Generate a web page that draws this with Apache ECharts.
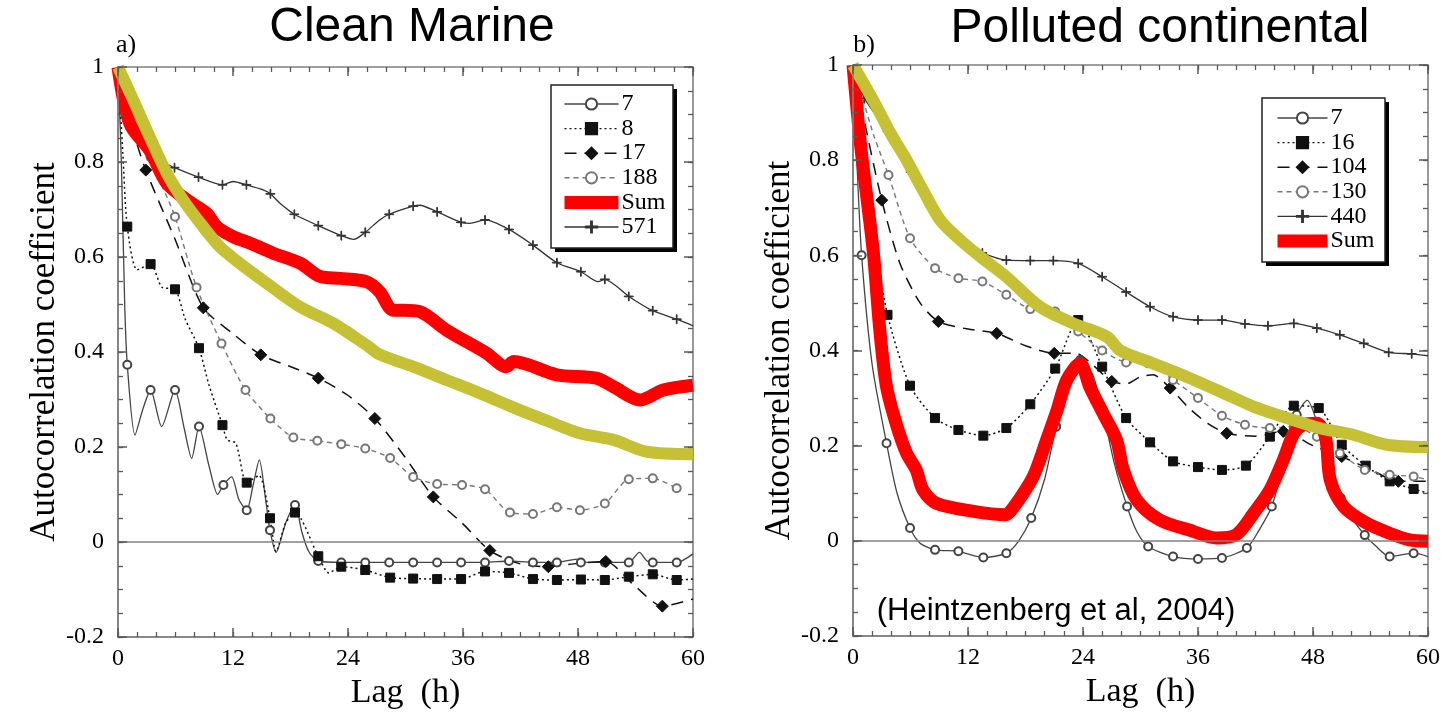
<!DOCTYPE html>
<html><head><meta charset="utf-8">
<script src="https://cdn.jsdelivr.net/npm/echarts@6/dist/echarts.min.js"></script>
<style>html,body{margin:0;padding:0;background:#fff}#c{width:1447px;height:717px}</style>
</head><body><div id="c"></div>
<script>
// ---------- text ----------
const xTickLabels = ['0','12','24','36','48','60'];
const yTickLabels = ['-0.2','0','0.2','0.4','0.6','0.8','1'];
const panelTitles = ['Clean Marine','Polluted continental'];
const panelLetters = ['a)','b)'];
const citation = '(Heintzenberg et al, 2004)';
const yAxisName = 'Autocorrelation coefficient';
const xAxisName = 'Lag  (h)';
const legendA = ['7','8','17','188','Sum','571'];
const legendB = ['7','16','104','130','440','Sum'];

// ---------- panel a (Clean Marine): [lag h, coefficient, marker] ----------
const a7 = [[0,1,0],[0.35,0.8,0],[0.7,0.5,0],[0.97,0.373,1],[1.77,0.225,0],[2.6,0.28,0],[3.4,0.32,1],[4.56,0.243,0],[5.95,0.32,1],[6.9,0.24,0],[7.69,0.176,0],[8.45,0.243,1],[9.5,0.16,0],[10.4,0.10,0],[11.0,0.12,1],[11.86,0.137,0],[12.6,0.09,0],[13.43,0.067,1],[14.1,0.12,0],[14.75,0.173,0],[15.4,0.09,0],[15.86,0.025,1],[16.49,-0.022,0],[17.5,0.04,0],[18.47,0.078,1],[19.2,0.02,0],[19.9,-0.02,0],[20.9,-0.04,1],[23.3,-0.043,1],[25.8,-0.043,1],[28.3,-0.043,1],[30.8,-0.043,1],[33.3,-0.043,1],[35.8,-0.043,1],[38.3,-0.043,1],[40.8,-0.04,1],[43.3,-0.043,1],[45.8,-0.043,1],[47.9,-0.036,0],[48.3,-0.043,1],[50.8,-0.043,1],[53.3,-0.043,1],[54.4,-0.022,0],[55.2,-0.04,0],[55.8,-0.043,1],[58.3,-0.043,1],[60,-0.025,0]];
const a8 = [[0,1,0],[0.5,0.82,0],[0.97,0.664,1],[2,0.573,0],[3.4,0.585,1],[4.6,0.536,0],[5.95,0.532,1],[7,0.47,0],[8.45,0.408,1],[9.5,0.33,0],[10.9,0.246,1],[11.4,0.215,0],[12.3,0.208,0],[13.43,0.125,1],[14.7,0.14,0],[15.86,0.05,1],[16.5,-0.02,0],[17.5,0.04,0],[18.47,0.062,1],[20.9,-0.03,1],[22,-0.065,0],[23.3,-0.052,1],[25.8,-0.059,1],[28.4,-0.075,1],[30.8,-0.077,1],[33.3,-0.078,1],[35.8,-0.078,1],[38.3,-0.062,1],[40.8,-0.065,1],[43.3,-0.078,1],[45.8,-0.08,1],[48.3,-0.079,1],[50.8,-0.08,1],[53.3,-0.073,1],[55.8,-0.068,1],[58.3,-0.08,1],[60,-0.078,0]];
const a17 = [[0,1,0],[1.2,0.89,0],[2.9,0.783,1],[5.9,0.64,0],[8.9,0.493,1],[11.9,0.44,0],[14.9,0.394,1],[17.9,0.37,0],[20.9,0.345,1],[23.9,0.31,0],[26.8,0.26,1],[29.9,0.18,0],[32.9,0.095,1],[35.9,0.04,0],[38.8,-0.018,1],[41.8,-0.045,0],[44.9,-0.052,1],[47.9,-0.045,0],[50.9,-0.041,1],[53.8,-0.09,0],[56.8,-0.135,1],[60,-0.12,0]];
const a188 = [[0,1,0],[1,0.95,0],[2.2,0.87,0],[3.4,0.81,1],[4.6,0.75,0],[5.95,0.685,1],[8.2,0.536,1],[10.8,0.418,1],[13.3,0.32,1],[15.9,0.26,1],[18.3,0.22,1],[20.8,0.213,1],[23.3,0.206,1],[25.8,0.197,1],[28.4,0.177,1],[30.8,0.137,1],[33.3,0.122,1],[35.9,0.12,1],[38.3,0.111,1],[40.9,0.062,1],[43.3,0.059,1],[45.8,0.073,1],[48.2,0.067,1],[50.8,0.081,1],[53.3,0.132,1],[55.8,0.134,1],[58.3,0.113,1]];
const a571 = [[0,1,0],[0.97,0.9,1],[2,0.85,0],[3.4,0.815,1],[4.7,0.8,0],[5.9,0.788,1],[8.4,0.768,1],[10.9,0.752,1],[12,0.759,0],[13.4,0.752,1],[15.2,0.741,0],[15.9,0.733,1],[16.9,0.713,0],[18.4,0.69,1],[20.9,0.666,1],[23.3,0.645,1],[24.6,0.637,0],[25.8,0.652,1],[27.3,0.678,0],[28.3,0.69,1],[30.8,0.707,1],[31.5,0.709,0],[33.3,0.695,1],[35.8,0.673,1],[36.7,0.671,0],[38.3,0.678,1],[40.8,0.658,1],[43.3,0.625,1],[45.8,0.588,1],[48.3,0.569,1],[50.1,0.548,0],[50.8,0.553,1],[53.3,0.517,1],[55.8,0.487,1],[58.3,0.469,1],[60,0.455,0]];
const aSum = [[0,1],[1.25,0.88],[3.3,0.825],[5.1,0.755],[7.2,0.72],[9.25,0.692],[10.3,0.664],[12,0.643],[13.8,0.629],[16.2,0.608],[19,0.587],[21.1,0.559],[23.2,0.555],[25.9,0.548],[27.3,0.527],[28.7,0.488],[29.8,0.488],[31.5,0.485],[34.3,0.446],[38.5,0.397],[40.5,0.369],[41.3,0.38],[45.8,0.352],[49.9,0.345],[51.7,0.327],[54.5,0.299],[56.9,0.32],[60,0.33]];
const aFit = [[0,1],[1.6,0.93],[3.3,0.853],[5.1,0.776],[6.8,0.72],[8.6,0.671],[10.6,0.622],[12.7,0.587],[15.5,0.545],[19,0.495],[22.5,0.46],[25.9,0.415],[27.3,0.395],[30.8,0.369],[34.3,0.341],[37.8,0.313],[41.3,0.283],[44.8,0.255],[48.2,0.229],[51.7,0.215],[55.2,0.19],[60,0.185]];

// ---------- panel b (Polluted continental) ----------
const b7 = [[0,1,0],[0.4,0.8,0],[0.9,0.6,1],[2,0.37,0],[3.5,0.205,1],[4.6,0.1,0],[5.95,0.027,1],[7,-0.005,0],[8.56,-0.019,1],[11,-0.022,1],[13.6,-0.035,1],[16,-0.026,1],[17.3,0,0],[18.6,0.048,1],[20,0.13,0],[21.2,0.24,1],[22.5,0.33,0],[23.7,0.38,1],[25,0.35,0],[26.2,0.26,1],[27.3,0.16,0],[28.6,0.072,1],[29.6,0.02,0],[30.8,-0.012,1],[33.4,-0.033,1],[36,-0.038,1],[38.5,-0.036,1],[41.1,-0.015,1],[42.3,0.02,0],[43.7,0.072,1],[45,0.17,0],[46.3,0.265,1],[47.4,0.295,0],[48.4,0.25,1],[49.4,0.17,0],[50.9,0.09,1],[52,0.05,0],[53.4,0.012,1],[54.5,-0.01,0],[56,-0.033,1],[58.5,-0.026,1],[60,-0.033,0]];
const b16 = [[0,1,0],[1,0.85,0],[2.2,0.64,0],[3.6,0.475,1],[5.95,0.326,1],[8.56,0.258,1],[11,0.233,1],[13.6,0.221,1],[16,0.237,1],[18.5,0.287,1],[21.1,0.362,1],[23.5,0.464,1],[26,0.366,1],[28.5,0.258,1],[31,0.207,1],[33.4,0.167,1],[36,0.155,1],[38.5,0.149,1],[41,0.158,1],[43.5,0.219,1],[46,0.284,1],[48.6,0.279,1],[51,0.202,1],[53.5,0.158,1],[56,0.125,1],[58.5,0.109,1],[60,0.1,0]];
const b104 = [[0,1,0],[1,0.9,0],[3,0.716,1],[4.9,0.583,0],[7,0.5,0],[8.9,0.461,1],[12,0.445,0],[15,0.436,1],[18,0.41,0],[21,0.394,1],[23.3,0.394,0],[25,0.37,0],[27,0.335,1],[28.5,0.33,0],[30,0.345,0],[31.3,0.349,0],[33.1,0.321,1],[35,0.28,0],[37,0.247,0],[39,0.226,1],[42,0.22,0],[44.9,0.23,1],[48,0.2,0],[51,0.177,1],[54,0.15,0],[56.9,0.125,1],[60,0.125,0]];
const b130 = [[0,1,0],[1,0.93,0],[2.2,0.85,0],[3.7,0.769,1],[5.95,0.636,1],[8.56,0.573,1],[11,0.552,1],[13.5,0.545,1],[16,0.517,1],[18.5,0.487,1],[21.1,0.482,1],[23.5,0.44,1],[26,0.4,1],[28.5,0.375,1],[30.8,0.373,1],[33.4,0.338,1],[36,0.3,1],[38.5,0.263,1],[40.9,0.244,1],[43.5,0.237,1],[46,0.24,1],[48.4,0.219,1],[50.8,0.184,1],[53.4,0.149,1],[56,0.139,1],[58.5,0.135,1],[60,0.128,0]];
const b440 = [[0,1,0],[1.2,0.93,1],[3.6,0.86,1],[6,0.775,1],[8.5,0.69,1],[11,0.632,1],[13.5,0.605,1],[16,0.59,1],[18.5,0.589,1],[20.9,0.589,1],[23.5,0.583,1],[26,0.555,1],[28.5,0.523,1],[31,0.492,1],[33.4,0.471,1],[36,0.464,1],[38.5,0.464,1],[40.9,0.456,1],[43.3,0.452,1],[46,0.457,1],[48.4,0.447,1],[50.8,0.433,1],[53.3,0.415,1],[55.9,0.396,1],[58.3,0.393,1],[60,0.389,0]];
const bSum = [[0,1],[0.8,0.83],[2.1,0.611],[2.8,0.443],[3.5,0.324],[4.6,0.24],[5.6,0.184],[6.6,0.149],[7.3,0.107],[8.7,0.079],[12.6,0.062],[15.9,0.055],[16.7,0.069],[18.8,0.135],[20.2,0.212],[21.3,0.275],[22.3,0.338],[23.7,0.373],[24.7,0.324],[26.1,0.268],[27.5,0.212],[28.2,0.15],[29.6,0.086],[32,0.044],[35.5,0.02],[37.9,0.006],[40,0.013],[41.8,0.058],[43.5,0.107],[44.9,0.17],[46,0.226],[47,0.244],[48.4,0.247],[49.3,0.219],[49.8,0.128],[51.2,0.072],[53.6,0.037],[56,0.016],[58.1,0.002],[60,-0.001]];
const bFit = [[0,1],[2.1,0.926],[3.9,0.857],[5.6,0.8],[7.3,0.737],[9.1,0.674],[11.2,0.632],[13.3,0.597],[16,0.555],[19.5,0.492],[23,0.457],[26.5,0.429],[27.9,0.4],[31.3,0.373],[34.8,0.345],[38.3,0.314],[41.8,0.282],[45.3,0.258],[48.7,0.237],[52.2,0.223],[55.7,0.202],[60,0.197]];

// ---------- styles ----------
const SERIF = '"Liberation Serif","DejaVu Serif",serif';
const SANS = '"Liberation Sans",Arial,sans-serif';
const AX = '#808080';
const TK = '#5a5a5a';
const PLUS = 'path://M4.6,0h0.8v4.6h4.6v0.8h-4.6v4.6h-0.8v-4.6h-4.6v-0.8h4.6z';
const ST = {
  circle:  {symbol:'emptyCircle', size:8, color:'#444', type:'solid', width:1.3},
  square:  {symbol:'rect', size:9, color:'#111', type:[2,3], width:1.5},
  diamond: {symbol:'diamond', size:12, color:'#111', type:[12,8], width:1.5},
  grey:    {symbol:'emptyCircle', size:8, color:'#777', type:[5,4], width:1.4},
  cross:   {symbol:PLUS, size:9, color:'#333', type:'solid', width:1.3}
};
const NAX = 5; // axes per panel per direction

function pts(arr){ return arr.map(p => p[2] ? {value:[p[0],p[1]]} : {value:[p[0],p[1]], symbol:'none'}); }
function thin(name, arr, g, st){
  return {name, type:'line', xAxisIndex:g*NAX, yAxisIndex:g*NAX, data:pts(arr), smooth:0.25,
    symbol:st.symbol, symbolSize:st.size, showSymbol:true, showAllSymbol:true, z:2,
    itemStyle:{color:st.color, borderColor:st.color, borderWidth:1},
    lineStyle:{color:st.color, width:st.width, type:st.type}, emphasis:{disabled:true}};
}
function thick(name, arr, g, color, width, z){
  return {name, type:'line', xAxisIndex:g*NAX, yAxisIndex:g*NAX, data:arr, smooth:0.3, symbol:'none', z,
    itemStyle:{color}, lineStyle:{color, width, cap:'butt', join:'round'}, emphasis:{disabled:true}};
}
function zeroLine(){ return {silent:true, symbol:'none', label:{show:false}, animation:false,
  lineStyle:{color:AX, width:1.5, type:'solid'}, data:[{yAxis:0}]}; }

const grids = [
  {left:118, top:67, width:575, height:570, show:true, borderColor:AX, borderWidth:1.6, backgroundColor:'transparent'},
  {left:853, top:65, width:575, height:571, show:true, borderColor:AX, borderWidth:1.6, backgroundColor:'transparent'}
];
const XR = {min:0, max:60, interval:12, split:6};
const YR = {min:-0.2, max:1, interval:0.2, split:4};

function mainAx(kind, g){
  const isX = kind === 'x';
  const r = isX ? XR : YR;
  return {type:'value', gridIndex:g, position: isX ? 'bottom' : 'left', min:r.min, max:r.max, interval:r.interval, z:10,
    axisLine:{show:true, onZero:false, lineStyle:{color:AX, width:1.6}},
    axisTick:{show:false},
    minorTick:{show:false},
    splitLine:{show:false}, minorSplitLine:{show:false},
    axisLabel:{show:true, margin: isX ? 10 : 14, fontFamily:SERIF, fontSize:24, color:'#000',
      formatter: isX ? (v => xTickLabels[Math.round(v/12)]) : (v => yTickLabels[Math.round((v+0.2)/0.2)])},
    name: isX ? xAxisName : yAxisName, nameLocation:'middle', nameGap: isX ? 38 : 56, nameRotate: isX ? 0 : 90,
    nameTextStyle:{fontFamily:SERIF, fontSize: isX ? 34 : 35, color:'#000'}};
}
// tick-only axes pulled into the plot so their outward ticks end on the frame (ticks drawn inside)
function tickAx(kind, g, pos, len, minor){
  const r = kind === 'x' ? XR : YR;
  return {type:'value', gridIndex:g, position:pos, offset:-len, min:r.min, max:r.max, interval:r.interval, z:10,
    axisLine:{show:false, onZero:false}, axisLabel:{show:false}, splitLine:{show:false}, minorSplitLine:{show:false},
    axisTick:{show:true, inside:false, length:len, lineStyle:{color:TK, width: minor ? 1.3 : 1.5}},
    minorTick:{show:minor, splitNumber:r.split, length:len, lineStyle:{color:TK, width:1.3}}};
}
function axesFor(kind, g){
  const a = kind === 'x' ? ['bottom','top'] : ['left','right'];
  return [mainAx(kind, g), tickAx(kind,g,a[0],9,false), tickAx(kind,g,a[0],5,true), tickAx(kind,g,a[1],9,false), tickAx(kind,g,a[1],5,true)];
}

// legend boxes: [left, top, width, height]
const boxA = [551, 85, 122, 163];
const boxB = [1262, 98, 123, 164];
function legend(names, b, pad, iw){
  return {orient:'vertical', left:b[0], top:b[1], padding:pad, itemGap:0.6, itemWidth:iw, itemHeight:14, z:8,
    selectedMode:false, inactiveColor:'#000',
    textStyle:{fontFamily:SERIF, fontSize:24, lineHeight:24, color:'#000', padding:[0,0,0,-2]},
    data: names.map(n => n === 'Sum' ? {name:n, lineStyle:{width:13}} : {name:n, lineStyle:{width:1.4}})};
}

const sA7 = thin('7', a7, 0, ST.circle); sA7.markLine = zeroLine();
const sB7 = thin('7', b7, 1, ST.circle); sB7.markLine = zeroLine();

function txt(x, y, text, font){
  return {type:'text', x, y, z:10, style:{text, font, fill:'#000', textAlign:'center', textVerticalAlign:'middle', align:'center', verticalAlign:'middle'}};
}
function box(b){
  return [
    {type:'rect', z:5, shape:{x:b[0]+4, y:b[1]+4, width:b[2], height:b[3]}, style:{fill:'#000'}},
    {type:'rect', z:6, shape:{x:b[0], y:b[1], width:b[2], height:b[3]}, style:{fill:'#fff', stroke:'#222', lineWidth:1.5}}
  ];
}

const option = {
  animation:false,
  backgroundColor:'#fff',
  grid: grids,
  xAxis:[...axesFor('x',0), ...axesFor('x',1)],
  yAxis:[...axesFor('y',0), ...axesFor('y',1)],
  legend:[legend(legendA, boxA, [7,20,9,7], 54), legend(legendB, boxB, [8,22,12,9], 50)],
  series:[
    sA7, thin('8', a8, 0, ST.square), thin('17', a17, 0, ST.diamond), thin('188', a188, 0, ST.grey),
    thin('571', a571, 0, ST.cross),
    thick('Sum', aSum, 0, '#ff0000', 13, 3), thick('fit a', aFit, 0, '#c6c034', 12, 4),
    sB7, thin('16', b16, 1, ST.square), thin('104', b104, 1, ST.diamond), thin('130', b130, 1, ST.grey),
    thin('440', b440, 1, ST.cross),
    thick('Sum', bSum, 1, '#ff0000', 13, 3), thick('fit b', bFit, 1, '#c6c034', 12, 4)
  ],
  graphic:[
    ...box(boxA), ...box(boxB),
    txt(412, 28, panelTitles[0], '48px '+SANS),
    txt(1160, 29, panelTitles[1], '48px '+SANS),
    txt(126, 45, panelLetters[0], '26px '+SERIF),
    txt(864, 45, panelLetters[1], '26px '+SERIF),
    txt(1056, 611, citation, '31px '+SANS)
  ]
};
const chart = echarts.init(document.getElementById('c'), null, {renderer:'canvas'});
chart.setOption(option);
</script>
</body></html>
